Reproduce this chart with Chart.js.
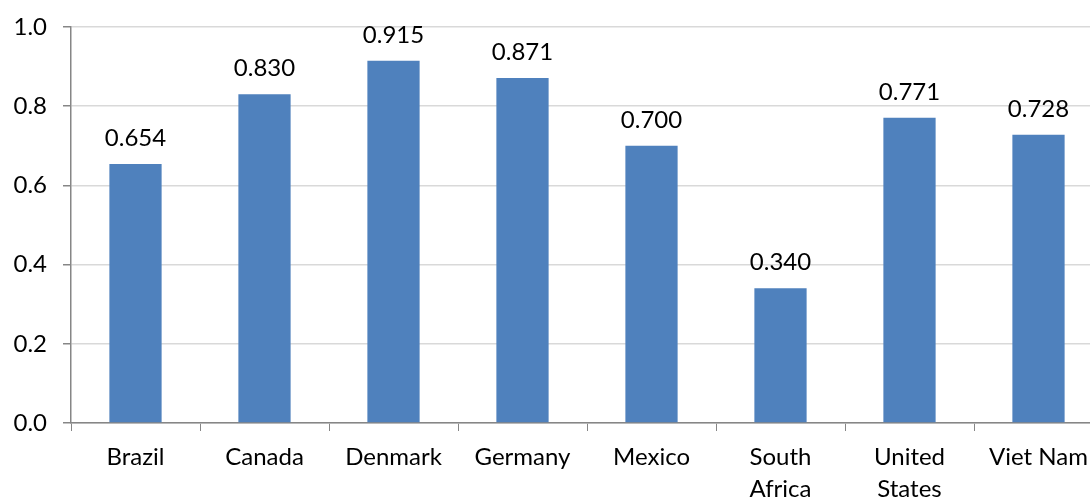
<!DOCTYPE html>
<html>
<head>
<meta charset="utf-8">
<script src="https://cdn.jsdelivr.net/npm/chart.js@4/dist/chart.umd.min.js"></script>
<style>
    html, body { margin: 0; padding: 0; background: #fff; overflow: hidden; }
    #wrap { width: 1090px; height: 498px; overflow: hidden; }
</style>
</head>
<body>
<div id="wrap"><canvas id="chart" width="1103" height="498"></canvas></div>
<script>
// Chart values
const countries = ['Brazil', 'Canada', 'Denmark', 'Germany', 'Mexico', ['South', 'Africa'], ['United', 'States'], 'Viet Nam'];
const scores = [0.654, 0.830, 0.915, 0.871, 0.700, 0.340, 0.771, 0.728];
const yTicks = [0, 0.2, 0.4, 0.6, 0.8, 1.0];

const FONT = 'Lato, "Open Sans", sans-serif';
const BAR_COLOR = '#4F81BD';
const AXIS_COLOR = '#868686';
const GRID_COLOR = '#d9d9d9';

// Draws the value above each bar
const valueLabels = {
    id: 'valueLabels',
    afterDatasetsDraw(chart) {
        const ctx = chart.ctx;
        const meta = chart.getDatasetMeta(0);
        ctx.save();
        ctx.font = '24px ' + FONT;
        ctx.fillStyle = '#000';
        ctx.textAlign = 'center';
        ctx.textBaseline = 'alphabetic';
        meta.data.forEach((bar, i) => {
            ctx.fillText(scores[i].toFixed(3), bar.x, bar.y - 18);
        });
        ctx.restore();
    }
};

new Chart(document.getElementById('chart').getContext('2d'), {
    type: 'bar',
    data: {
        labels: countries,
        datasets: [{
            data: scores,
            backgroundColor: BAR_COLOR,
            borderWidth: 0,
            categoryPercentage: 1.0,
            barPercentage: 0.405
        }]
    },
    options: {
        responsive: false,
        animation: false,
        // top space comes from the y tick label half-height + tick padding (~27px)
        layout: { padding: { top: 0, left: 0, right: 0, bottom: 0 } },
        plugins: {
            legend: { display: false },
            tooltip: { enabled: false }
        },
        scales: {
            x: {
                offset: true,
                grid: {
                    offset: true,
                    drawOnChartArea: false,
                    drawTicks: true,
                    tickLength: 8,
                    tickColor: AXIS_COLOR
                },
                border: { color: AXIS_COLOR, width: 1.5 },
                ticks: {
                    color: '#000',
                    font: { family: FONT, size: 24, lineHeight: 1.3 },
                    padding: 11,
                    maxRotation: 0,
                    autoSkip: false
                },
                afterFit(scale) { scale.height = 75; }
            },
            y: {
                min: 0,
                max: 1,
                afterBuildTicks(scale) { scale.ticks = yTicks.map(v => ({ value: v })); },
                grid: {
                    color: GRID_COLOR,
                    lineWidth: 1.5,
                    drawTicks: true,
                    tickLength: 8,
                    tickColor: AXIS_COLOR
                },
                border: { color: AXIS_COLOR, width: 1.5 },
                ticks: {
                    color: '#000',
                    font: { family: FONT, size: 24, lineHeight: 0.92 },
                    padding: 16,
                    callback: (v) => Number(v).toFixed(1)
                },
                afterFit(scale) { scale.width = 71; }
            }
        }
    },
    plugins: [valueLabels]
});
</script>
</body>
</html>
